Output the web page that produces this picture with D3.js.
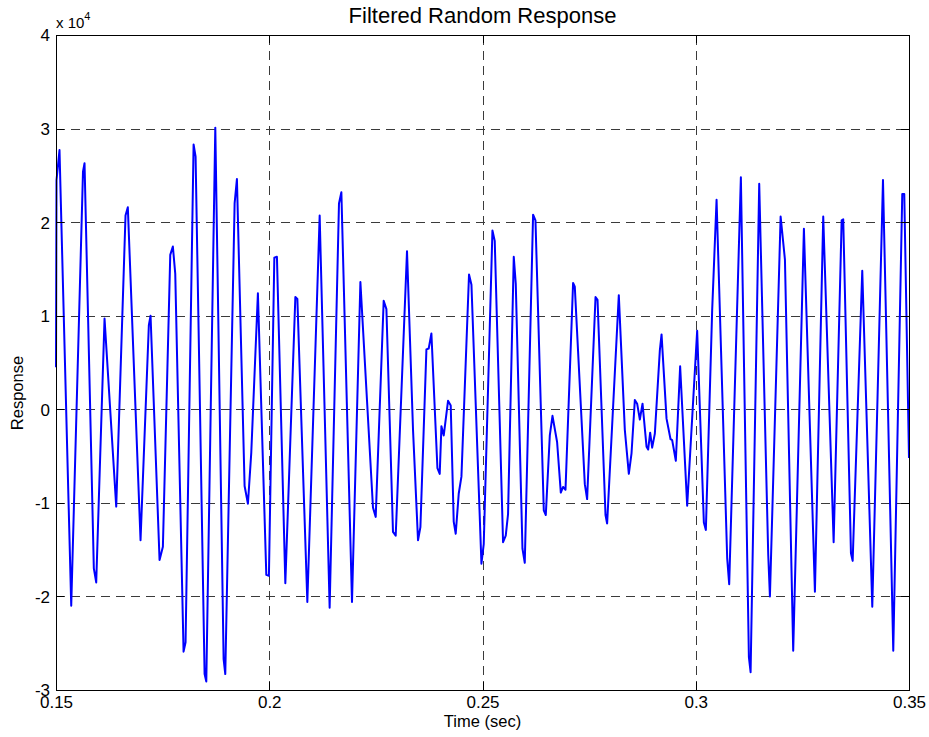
<!DOCTYPE html>
<html>
<head>
<meta charset="utf-8">
<script src="https://cdn.jsdelivr.net/npm/d3@7"></script>
<style>
  html, body { margin: 0; padding: 0; background: #ffffff; }
  svg { display: block; }
  text { font-family: "Liberation Sans", Arial, Helvetica, sans-serif; fill: #000; }
</style>
</head>
<body>
<svg id="chart" width="929" height="737"></svg>
<script>
// Sample times (s) and filtered response values
const timeSec = [
  0.15000, 0.15012, 0.15082, 0.15357, 0.15633, 0.15669, 0.15887, 0.15943, 0.16138, 0.16412,
  0.16630, 0.16684, 0.16982, 0.17177, 0.17217, 0.17428, 0.17506, 0.17679, 0.17740, 0.17796,
  0.17991, 0.18038, 0.18226, 0.18273, 0.18484, 0.18524, 0.18735, 0.18930, 0.18969, 0.19188,
  0.19242, 0.19422, 0.19500, 0.19579, 0.19734, 0.19931, 0.19992, 0.20119, 0.20180, 0.20377,
  0.20612, 0.20659, 0.20893, 0.21182, 0.21416, 0.21635, 0.21691, 0.21940, 0.22137, 0.22432,
  0.22496, 0.22683, 0.22747, 0.22901, 0.22965, 0.23230, 0.23371, 0.23488, 0.23544, 0.23685,
  0.23739, 0.23802, 0.23943, 0.23997, 0.24037, 0.24091, 0.24192, 0.24255, 0.24325, 0.24372,
  0.24443, 0.24506, 0.24684, 0.24741, 0.24975, 0.25029, 0.25233, 0.25287, 0.25482, 0.25545,
  0.25599, 0.25733, 0.25780, 0.25937, 0.25991, 0.26186, 0.26242, 0.26437, 0.26484, 0.26578,
  0.26641, 0.26749, 0.26836, 0.26890, 0.26946, 0.27124, 0.27164, 0.27399, 0.27453, 0.27650,
  0.27697, 0.27884, 0.27922, 0.28196, 0.28337, 0.28431, 0.28494, 0.28572, 0.28626, 0.28689,
  0.28752, 0.28846, 0.28884, 0.28931, 0.28978, 0.29041, 0.29158, 0.29198, 0.29315, 0.29409,
  0.29447, 0.29533, 0.29634, 0.29799, 0.30033, 0.30190, 0.30237, 0.30385, 0.30488, 0.30737,
  0.30784, 0.31058, 0.31246, 0.31286, 0.31488, 0.31699, 0.31739, 0.31990, 0.32091, 0.32285,
  0.32536, 0.32794, 0.32989, 0.33233, 0.33421, 0.33458, 0.33639, 0.33679, 0.33904, 0.34139,
  0.34390, 0.34631, 0.34842, 0.34889, 0.35000
];
const response = [
    4500,  24500,  27700, -21000,  25400,  26300, -17000, -18500,   9700, -10400,
   20700,  21600, -14000,   9000,  10000, -16100, -14700,  16500,  17400,  14500,
  -25900, -24900,  28300,  27000, -28300, -29100,  30100, -26700, -28300,  22000,
   24600,  -8200, -10100,  -4600,  12400, -17700, -17800,  16200,  16300, -18600,
   12000,  11800, -20600,  20700, -21200,  22000,  23200, -20600,  13600, -10500,
  -11500,  11600,  10700, -13100, -13500,  16900,  -2200, -14000, -12600,   6400,
    6500,   8100,  -6300,  -6900,  -1800,  -2800,    900,    400, -12000, -13300,
   -9000,  -7200,  14400,  13300, -16500, -14400,  19100,  18000, -14200, -13500,
  -11200,  16300,  13400, -14900, -16400,  20800,  20200, -10800, -11300,  -2800,
    -700,  -3500,  -8900,  -8300,  -8600,  13500,  13100,  -8000,  -9600,  12000,
   11700, -11300, -12200,  12200,  -2200,  -6900,  -4700,   1000,    600,  -1100,
     600,  -4000,  -4300,  -2500,  -4100,  -2600,   6300,   8000,  -1000,  -3200,
   -3300,  -5500,   4600, -10300,   8400, -12100, -12900,  10600,  22400, -15900,
  -18700,  24800, -26500, -28100,  24100, -15500, -20000,  20600,  16000, -25800,
   19300, -19500,  20600, -14200,  20200,  20300, -15400, -16200,  14800, -21100,
   24500, -25800,  23000,  23000,  -5200
];
const xTicks = [0.15, 0.2, 0.25, 0.3, 0.35];
const xTickLabels = ["0.15", "0.2", "0.25", "0.3", "0.35"];
const yTicks = [-30000, -20000, -10000, 0, 10000, 20000, 30000, 40000];
const yTickLabels = ["-3", "-2", "-1", "0", "1", "2", "3", "4"];
const titleText = "Filtered Random Response";
const xLabelText = "Time (sec)";
const yLabelText = "Response";

const svg = d3.select("#chart");
const margin = { left: 56, right: 20, top: 35, bottom: 47 };
const W = 929, H = 737;
const iw = W - margin.left - margin.right;
const ih = H - margin.top - margin.bottom;

svg.append("rect").attr("width", W).attr("height", H).attr("fill", "#ffffff");

const x = d3.scaleLinear().domain([0.15, 0.35]).range([0, iw]);
const y = d3.scaleLinear().domain([-30000, 40000]).range([ih, 0]);

const g = svg.append("g").attr("transform", `translate(${margin.left},${margin.top})`);

// dashed grid
const gridX = g.append("g").attr("class", "grid")
  .attr("transform", `translate(0,${ih})`)
  .call(d3.axisBottom(x).tickValues(xTicks).tickSize(-ih).tickFormat(""));
const gridY = g.append("g").attr("class", "grid")
  .call(d3.axisLeft(y).tickValues(yTicks).tickSize(-iw).tickFormat(""));
[gridX, gridY].forEach(gr => {
  gr.select(".domain").remove();
  gr.selectAll("line")
    .attr("stroke", "#3a3a3a")
    .attr("stroke-width", 1)
    .attr("stroke-dasharray", "9,6")
    .attr("shape-rendering", "crispEdges");
});

// signal
g.append("clipPath").attr("id", "plotClip")
  .append("rect").attr("x", -1).attr("y", -1).attr("width", iw + 2).attr("height", ih + 2);
const pts = timeSec.map((t, i) => [t, response[i]]);
g.append("path")
  .datum(pts)
  .attr("clip-path", "url(#plotClip)")
  .attr("fill", "none")
  .attr("stroke", "#0000ff")
  .attr("stroke-width", 2)
  .attr("stroke-linejoin", "round")
  .attr("d", d3.line().x(d => x(d[0])).y(d => y(d[1])));

// axes with inward ticks, box style
const tickLen = 8;
const fmtX = d => xTickLabels[xTicks.indexOf(d)];
const fmtY = d => yTickLabels[yTicks.indexOf(d)];

const axB = g.append("g").attr("transform", `translate(0,${ih})`)
  .call(d3.axisBottom(x).tickValues(xTicks).tickSize(-tickLen).tickPadding(6).tickFormat(fmtX));
const axT = g.append("g")
  .call(d3.axisTop(x).tickValues(xTicks).tickSize(-tickLen).tickFormat(""));
const axL = g.append("g")
  .call(d3.axisLeft(y).tickValues(yTicks).tickSize(-tickLen).tickPadding(6).tickFormat(fmtY));
const axR = g.append("g").attr("transform", `translate(${iw},0)`)
  .call(d3.axisRight(y).tickValues(yTicks).tickSize(-tickLen).tickFormat(""));

[axB, axT, axL, axR].forEach(a => {
  a.select(".domain").attr("stroke", "#000").attr("stroke-width", 1).attr("shape-rendering", "crispEdges");
  a.selectAll(".tick line").attr("stroke", "#000").attr("shape-rendering", "crispEdges");
  a.selectAll("text").attr("font-size", 17).attr("fill", "#000")
    .attr("font-family", "'Liberation Sans', Arial, sans-serif");
});
axB.selectAll("text").attr("dy", "0.71em");
axL.selectAll("text").attr("dy", "0.35em");

// exponent label
const expo = svg.append("text")
  .attr("x", margin.left)
  .attr("y", 28)
  .attr("font-size", 15);
expo.append("tspan").text("x 10");
expo.append("tspan").attr("dy", -8).attr("font-size", 11).text("4");

// title and axis labels
svg.append("text")
  .attr("x", margin.left + iw / 2)
  .attr("y", 23)
  .attr("text-anchor", "middle")
  .attr("font-size", 22)
  .text(titleText);

svg.append("text")
  .attr("x", margin.left + iw / 2)
  .attr("y", 727)
  .attr("text-anchor", "middle")
  .attr("font-size", 16.5)
  .text(xLabelText);

svg.append("text")
  .attr("transform", "translate(23,393) rotate(-90)")
  .attr("text-anchor", "middle")
  .attr("font-size", 16.5)
  .text(yLabelText);
</script>
</body>
</html>
